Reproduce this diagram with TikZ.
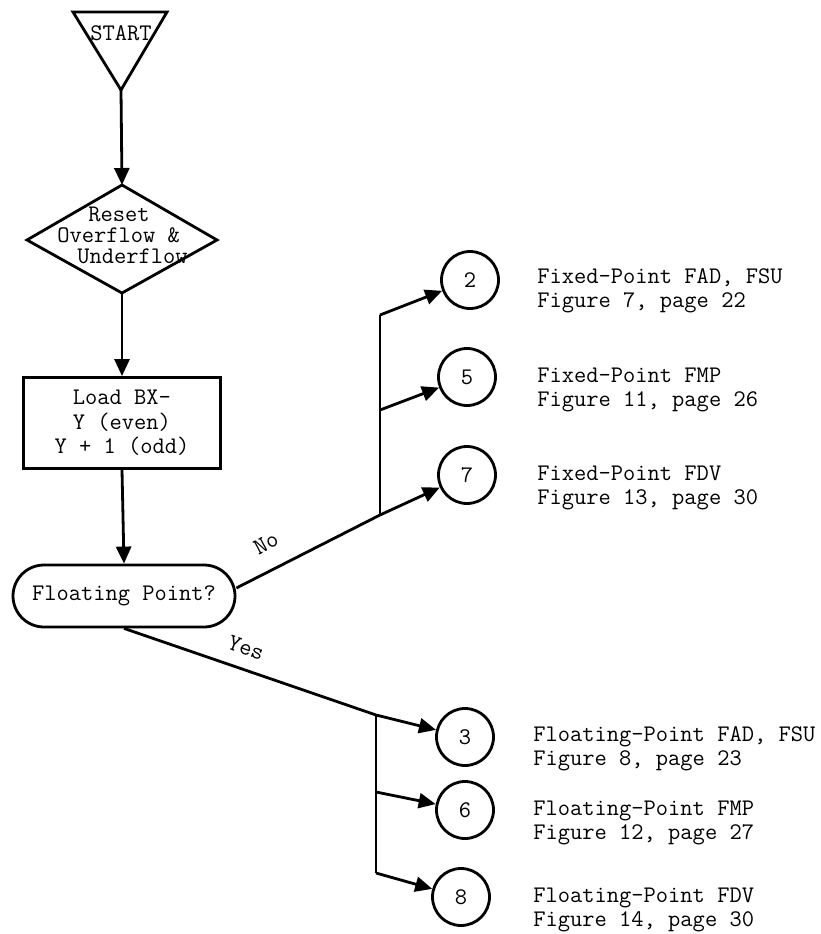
\documentclass[tikz,border=0pt]{standalone}
\usepackage{fontspec}
\usetikzlibrary{arrows.meta}
\begin{document}
\begin{tikzpicture}[x=1pt,y=-1pt,
  line width=2.8pt, line join=miter,
  txt/.style={font=\ttfamily\fontsize{23.8}{24.5}\selectfont, inner sep=0pt},
  arr/.style={-{Triangle[length=17pt,width=15pt]}},
  conn/.style={circle, draw, minimum size=57pt, inner sep=0pt, font=\ttfamily\fontsize{23.8}{24.5}\selectfont},
  desc/.style={txt, anchor=west, align=left},
  procbox/.style={draw, rectangle, minimum width=197pt, minimum height=91pt, align=center, txt},
  decisionbox/.style={draw, rectangle, rounded corners=31pt, minimum width=222pt, minimum height=62pt, txt},
  lbl/.style={txt}
]
\useasboundingbox (0,0) rectangle (821,934);

% START triangle
\coordinate (stl) at (73,12);
\coordinate (str) at (167,12);
\coordinate (sapex) at (121,90);
\draw (stl) -- (str) -- (sapex) -- cycle;
\node[txt] (starttext) at (121,33) {START};

% Reset diamond
\coordinate (dtop) at (122,185);
\coordinate (dright) at (217,240);
\coordinate (dbot) at (122,293);
\coordinate (dleft) at (27,240);
\draw (dtop) -- (dright) -- (dbot) -- (dleft) -- cycle;
\node[txt, align=left, anchor=west, font=\ttfamily\fontsize{23.8}{21}\selectfont] (resettext) at (56,235)
  {\hspace*{31pt}Reset\\Overflow \&\\\hspace*{20pt}Underflow};

% Load box
\node[procbox] (load) at (122,423) {Load BX-\\Y (even)\\Y + 1 (odd)};

% Floating point decision
\node[decisionbox] (fp) at (124,596) {Floating Point?};

% vertical flow
\draw[arr] (sapex) -- (dtop);
\draw[arr] (dbot) -- (load.north);
\draw[arr] (load.south) -- (fp.north);

% connector circles
\node[conn] (c2) at (470,280) {2};
\node[conn] (c5) at (467,377) {5};
\node[conn] (c7) at (467,475) {7};
\node[conn] (c3) at (465,737) {3};
\node[conn] (c6) at (465,810) {6};
\node[conn] (c8) at (461,897) {8};

% No branch
\coordinate (nbot) at (380,515);
\coordinate (nmid) at (380,410);
\coordinate (ntop) at (380,315);
\draw (fp.east) ++(0,-8) coordinate (fpe) (fpe) -- (nbot);
\draw (nbot) -- (ntop);
\draw[arr] (nbot) -- (c7);
\draw[arr] (nmid) -- (c5);
\draw[arr] (ntop) -- (c2);
\node[lbl, rotate=28] (nolbl) at (266,543) {No};

% Yes branch
\coordinate (ytop) at (376,715);
\coordinate (ymid) at (376,792);
\coordinate (ybot) at (376,873);
\draw (fp.south) -- (ytop);
\draw (ytop) -- (ybot);
\draw[arr] (ytop) -- (c3);
\draw[arr] (ymid) -- (c6);
\draw[arr] (ybot) -- (c8);
\node[lbl, rotate=-20] (yeslbl) at (246,648) {Yes};

% descriptions
\node[desc] (d2) at (536,291) {Fixed-Point FAD, FSU\\Figure 7, page 22};
\node[desc] (d5) at (536,390) {Fixed-Point FMP\\Figure 11, page 26};
\node[desc] (d7) at (536,488) {Fixed-Point FDV\\Figure 13, page 30};
\node[desc] (d3) at (532,749) {Floating-Point FAD, FSU\\Figure 8, page 23};
\node[desc] (d6) at (532,823) {Floating-Point FMP\\Figure 12, page 27};
\node[desc] (d8) at (532,910) {Floating-Point FDV\\Figure 14, page 30};
\end{tikzpicture}
\end{document}
